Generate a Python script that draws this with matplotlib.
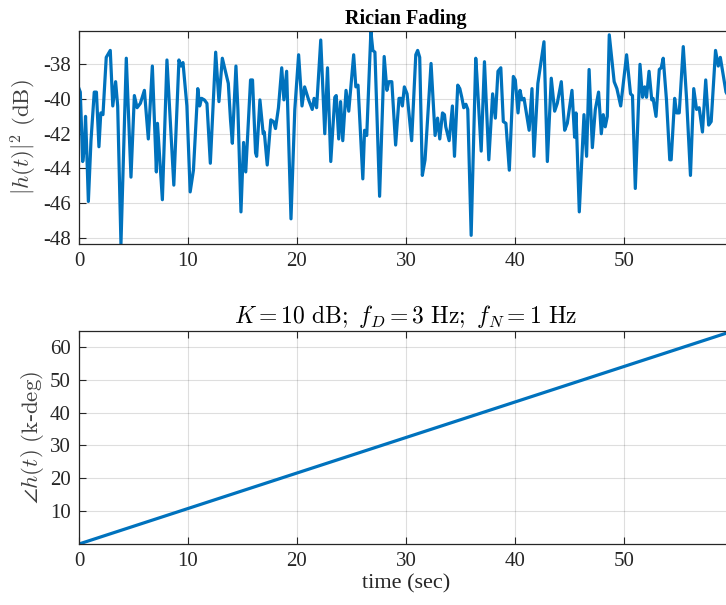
import matplotlib
matplotlib.use("Agg")
import matplotlib.pyplot as plt

plt.rcParams["font.family"] = ["Liberation Serif", "DejaVu Serif"]
plt.rcParams["mathtext.fontset"] = "cm"
plt.rcParams["axes.unicode_minus"] = False

# received power |h(t)|^2 in dB
t_pow = [
    0, 0.12, 0.34, 0.5, 0.6, 0.7, 0.86, 1.1, 1.4, 1.6, 1.83, 2.0, 2.2, 2.5, 2.87,
    3.1, 3.36, 3.55, 3.85, 4.34, 4.77, 5.08, 5.33, 5.63, 6.0, 6.36, 6.73, 7.1,
    7.2, 7.65, 8.07, 8.7, 9.17, 9.36, 9.54, 9.9, 10.2, 10.5, 10.9, 11.07, 11.25,
    11.5, 11.74, 12.05, 12.54, 12.84, 13.15, 13.7, 13.9, 14.07, 14.4, 14.58,
    14.86, 15.1, 15.3, 15.74, 15.92, 16.2, 16.3, 16.6, 16.9, 17.0, 17.27, 17.6,
    17.85, 18.03, 18.3, 18.6, 18.8, 19.05, 19.45, 19.8, 20.15, 20.46, 20.7,
    21.07, 21.4, 21.57, 21.8, 22.18, 22.55, 22.8, 23.1, 23.47, 23.6, 23.83, 24.0,
    24.2, 24.5, 24.75, 25.2, 25.4, 25.6, 26.04, 26.2, 26.4, 26.78, 26.96, 27.15,
    27.58, 28.0, 28.25, 28.43, 28.7, 29.05, 29.36, 29.55, 29.67, 29.85, 30.1,
    30.52, 30.9, 31.07, 31.26, 31.5, 31.75, 32.3, 32.67, 32.9, 33.1, 33.35,
    33.53, 33.65, 33.96, 34.26, 34.45, 34.75, 34.94, 35.12, 35.3, 35.5, 35.67,
    35.98, 36.4, 36.5, 36.9, 37.2, 37.6, 37.95, 38.2, 38.44, 38.7, 38.93, 39.17,
    39.48, 39.85, 40.03, 40.28, 40.46, 40.64, 40.83, 41.3, 41.56, 41.74, 42.1,
    42.66, 42.97, 43.33, 43.64, 43.88, 44.25, 44.56, 44.8, 45.23, 45.47, 45.6,
    45.9, 46.33, 46.57, 46.8, 47.1, 47.37, 47.67, 47.92, 48.1, 48.28, 48.47,
    48.65, 49.1, 49.35, 49.7, 50.24, 50.6, 50.78, 51.04, 51.47, 51.7, 51.9,
    52.07, 52.3, 52.55, 52.67, 52.94, 53.24, 53.42, 53.6, 53.9, 54.2, 54.33,
    54.65, 54.83, 55.07, 55.44, 55.75, 56.1, 56.4, 56.66, 56.9, 57.2, 57.5,
    57.77, 58.0, 58.4, 58.65, 58.84, 59.36, 60.0,
]
pow_db = [
    -39.4, -39.6, -43.6, -42.75, -41.0, -42.75, -45.9, -42.4, -39.6, -39.6,
    -42.75, -40.8, -40.9, -37.6, -37.2, -40.4, -39.0, -40.4, -48.35, -37.65,
    -44.5, -39.8, -40.5, -40.25, -39.5, -42.3, -38.1, -44.2, -41.4, -45.8,
    -37.75, -44.96, -37.75, -38.1, -37.9, -40.4, -45.35, -44.1, -39.4, -40.4,
    -39.96, -40.05, -40.25, -43.7, -37.3, -40.15, -37.65, -39.1, -41.2, -42.55,
    -38.1, -40.6, -46.5, -42.5, -44.2, -38.9, -38.9, -43.1, -43.3, -40.05,
    -42.0, -41.9, -43.8, -41.2, -41.3, -41.7, -40.5, -38.2, -40.05, -38.4,
    -46.9, -40.6, -37.45, -40.4, -39.3, -40.05, -40.6, -39.96, -40.5, -36.6,
    -42.0, -38.2, -43.6, -39.9, -39.8, -42.3, -40.15, -42.4, -39.5, -40.7,
    -37.45, -39.3, -39.2, -44.6, -41.8, -42.1, -36.1, -37.2, -37.3, -45.6,
    -37.55, -39.5, -39.0, -39.0, -42.65, -39.96, -39.96, -40.4, -39.3, -39.7,
    -42.4, -37.45, -37.2, -37.6, -44.4, -43.5, -37.95, -42.1, -41.1, -42.3,
    -40.8, -40.9, -41.6, -42.4, -40.4, -43.3, -39.2, -39.4, -39.9, -40.5,
    -40.3, -40.6, -47.85, -37.65, -38.6, -43.0, -37.85, -43.5, -39.7, -41.1,
    -38.4, -38.2, -41.3, -41.4, -44.1, -38.7, -38.9, -40.8, -39.5, -40.05,
    -39.96, -41.8, -39.4, -43.3, -39.1, -36.7, -43.6, -38.8, -40.7, -40.25,
    -39.0, -41.8, -41.4, -39.5, -42.2, -40.8, -46.5, -40.9, -43.3, -38.3,
    -42.8, -40.6, -39.6, -42.0, -40.9, -41.6, -41.0, -36.3, -39.0, -39.4,
    -40.4, -37.45, -39.7, -39.8, -45.15, -38.0, -39.9, -39.3, -39.9, -38.4,
    -40.05, -39.96, -41.0, -38.3, -38.2, -37.65, -40.05, -43.5, -43.5, -39.96,
    -40.8, -40.8, -36.98, -40.05, -44.4, -39.4, -40.6, -40.5, -41.9, -38.9,
    -41.5, -41.3, -37.2, -38.1, -37.6, -39.6, -40.3,
]

# phase in k-deg (straight ramp)
t_phase = [0, 60]
phase_kdeg = [0, 64.8]

x_ticks = [0, 10, 20, 30, 40, 50]
pow_ticks = [-48, -46, -44, -42, -40, -38]
phase_ticks = [10, 20, 30, 40, 50, 60]

blue = "#0072BD"
axis_col = "#262626"

fig = plt.figure(figsize=(7.26, 6.05), dpi=100)
ax1 = fig.add_axes([0.1088, 0.5967, 0.9008, 0.3521])
ax2 = fig.add_axes([0.1088, 0.1008, 0.9008, 0.3521])


def style(ax):
    ax.grid(True, color="#000000", alpha=0.13, linewidth=0.8)
    ax.set_axisbelow(True)
    ax.tick_params(direction="in", top=True, right=True, length=5,
                   width=0.8, labelsize=15, colors=axis_col, pad=6)
    for sp in ax.spines.values():
        sp.set_color(axis_col)
        sp.set_linewidth(0.9)


ax1.plot(t_pow, pow_db, color=blue, lw=2.3)
ax1.set_xlim(0, 60)
ax1.set_ylim(-48.35, -36.08)
ax1.set_xticks(x_ticks)
ax1.set_yticks(pow_ticks)
ax1.set_ylabel(r"$|h(t)|^2\ (\mathrm{dB})$", fontsize=16.5, color="#404040",
               labelpad=3)
ax1.set_title("Rician Fading", fontsize=14.5, fontweight="bold", pad=5)
style(ax1)

ax2.plot(t_phase, phase_kdeg, color=blue, lw=2.3)
ax2.set_xlim(0, 60)
ax2.set_ylim(0, 64.8)
ax2.set_xticks(x_ticks)
ax2.set_yticks(phase_ticks)
ax2.set_ylabel(r"$\angle h(t)\ (\mathrm{k}$-$\mathrm{deg})$", fontsize=16.5,
               color="#404040", labelpad=3)
ax2.set_xlabel("time (sec)", fontsize=16, color=axis_col, labelpad=2)
ax2.set_title(r"$K = 10\ \mathrm{dB};\ f_D = 3\ \mathrm{Hz};\ f_N = 1\ \mathrm{Hz}$",
              fontsize=17, pad=6)
style(ax2)

fig.savefig("out.png", dpi=100)
